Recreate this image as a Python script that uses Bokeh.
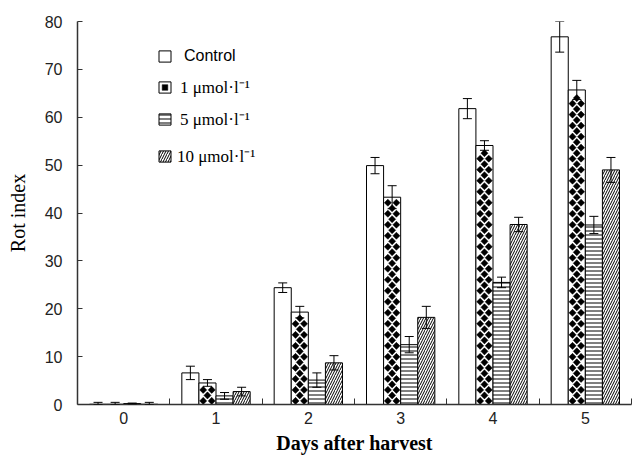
import numpy as np
from bokeh.plotting import figure
from bokeh.models import (ColumnDataSource, Range1d, FixedTicker, Whisker, TeeHead,
                          Legend, LegendItem)
from bokeh.transform import dodge
from bokeh.embed import file_html
from bokeh.resources import INLINE

# ---- data ----
days = [0, 1, 2, 3, 4, 5]
series_labels = ["Control", "1 μmol·l⁻¹", "5 μmol·l⁻¹", "10 μmol·l⁻¹"]
control = [0.05, 6.6, 24.4, 49.9, 61.8, 76.8]
control_err = [0.4, 1.4, 1.0, 1.7, 2.1, 3.2]
umol1 = [0.05, 4.5, 19.3, 43.3, 54.1, 65.7]
umol1_err = [0.4, 0.7, 1.2, 2.4, 1.0, 2.0]
umol5 = [0.2, 1.8, 5.1, 12.5, 25.5, 37.5]
umol5_err = [0.1, 0.7, 1.5, 1.7, 1.1, 1.8]
umol10 = [0.05, 2.7, 8.7, 18.2, 37.6, 49.0]
umol10_err = [0.4, 0.9, 1.5, 2.3, 1.5, 2.6]

series = [("c", control, control_err), ("u1", umol1, umol1_err),
          ("u5", umol5, umol5_err), ("u10", umol10, umol10_err)]

data = {"day": days}
for key, vals, errs in series:
    v = np.array(vals, dtype=float)
    e = np.array(errs, dtype=float)
    data[key] = v
    data[key + "_hi"] = v + e
    data[key + "_lo"] = np.maximum(v - e, 0)
src = ColumnDataSource(data)

p = figure(width=633, height=458, x_range=Range1d(-0.5, 5.5), y_range=Range1d(0, 80),
           output_backend="svg", toolbar_location=None,
           min_border_left=77, min_border_right=2, min_border_top=21, min_border_bottom=54)
p.outline_line_color = None
p.xgrid.grid_line_color = None
p.ygrid.grid_line_color = None
p.background_fill_color = "white"
p.border_fill_color = "white"

w = 0.185
offsets = [-1.5 * w, -0.5 * w, 0.5 * w, 1.5 * w]
hatch_styles = [
    dict(),
    dict(),
    dict(hatch_pattern="horizontal_line", hatch_color="black", hatch_scale=4, hatch_weight=1),
    dict(hatch_pattern="right_diagonal_line", hatch_color="black", hatch_scale=5, hatch_weight=1),
]

renderers = []
for (key, _, _), off, hs in zip(series, offsets, hatch_styles):
    r = p.vbar(x=dodge("day", off, range=p.x_range), top=key, width=w, bottom=0, source=src,
               fill_color="white", line_color="black", line_width=1, **hs)
    renderers.append(r)

# diamond fill pattern for the 1 umol bars: staggered rows of small diamonds kept inside each bar
row_step = 1.15      # data units between rows
first_row = 0.75
dx, dy = [], []
for d, top in zip(days, umol1):
    xc = d + offsets[1]
    k = 0
    y = first_row
    while y <= top - 0.75:
        xs = [xc - w / 4, xc + w / 4] if k % 2 == 0 else [xc]
        for xx in xs:
            dx.append(xx)
            dy.append(y)
        k += 1
        y = first_row + k * row_step
dsrc = ColumnDataSource(dict(x=dx, y=dy))
diam = p.scatter(x="x", y="y", source=dsrc, marker="square", angle=np.pi / 4, size=5,
                 fill_color="black", line_color="black", line_width=0.5)

for (key, _, _), off in zip(series, offsets):
    wk = Whisker(base=dodge("day", off, range=p.x_range), upper=key + "_hi", lower=key + "_lo",
                 source=src, line_color="black", line_width=1, level="overlay",
                 upper_head=TeeHead(size=9, line_color="black", line_width=1),
                 lower_head=TeeHead(size=9, line_color="black", line_width=1))
    p.add_layout(wk)

# axes
tick_font = "Liberation Sans"
xa = p.xaxis[0]
xa.ticker = FixedTicker(ticks=days, minor_ticks=[d + 0.5 for d in days])
xa.major_tick_in = 0
xa.major_tick_out = 0
xa.minor_tick_in = 6
xa.minor_tick_out = 0
xa.minor_tick_line_color = "#333333"
xa.axis_line_color = "#333333"
xa.axis_line_width = 1.5
xa.major_label_text_font = tick_font
xa.major_label_text_font_size = "16px"
xa.major_label_text_color = "#222222"
xa.major_label_standoff = 7
xa.axis_label = "Days after harvest"
xa.axis_label_text_font = "Liberation Serif"
xa.axis_label_text_font_size = "20px"
xa.axis_label_text_font_style = "bold"
xa.axis_label_text_color = "black"
xa.axis_label_standoff = 5

ya = p.yaxis[0]
ya.ticker = FixedTicker(ticks=list(range(0, 81, 10)), minor_ticks=[])
ya.major_tick_in = 5
ya.major_tick_out = 0
ya.major_tick_line_color = "#333333"
ya.axis_line_color = "#333333"
ya.axis_line_width = 1.5
ya.major_label_text_font = tick_font
ya.major_label_text_font_size = "16px"
ya.major_label_text_color = "#222222"
ya.major_label_standoff = 15
ya.axis_label = "Rot index"
ya.axis_label_text_font = "Liberation Serif"
ya.axis_label_text_font_size = "20px"
ya.axis_label_text_font_style = "normal"
ya.axis_label_text_color = "black"
ya.axis_label_standoff = 13

# legends (one per entry so fonts/positions can match)
leg_renderers = [[renderers[0]], [renderers[1], diam], [renderers[2]], [renderers[3]]]
leg_fonts = [("Liberation Sans", "16px", 12), ("Liberation Serif", "17px", 8),
             ("Liberation Serif", "17px", 8), ("Liberation Serif", "17px", 5)]
leg_y = [339, 306, 274, 237]
for rs, lab, (fnt, fs, so), vy in zip(leg_renderers, series_labels, leg_fonts, leg_y):
    leg = Legend(items=[LegendItem(label=lab, renderers=rs)], location=(80, vy),
                 label_text_font=fnt, label_text_font_size=fs, label_standoff=so,
                 glyph_width=15, glyph_height=14, label_height=14,
                 padding=0, margin=0, border_line_alpha=0, background_fill_alpha=0,
                 label_text_color="black")
    p.add_layout(leg)

open("out.html", "w").write(file_html(p, INLINE))
